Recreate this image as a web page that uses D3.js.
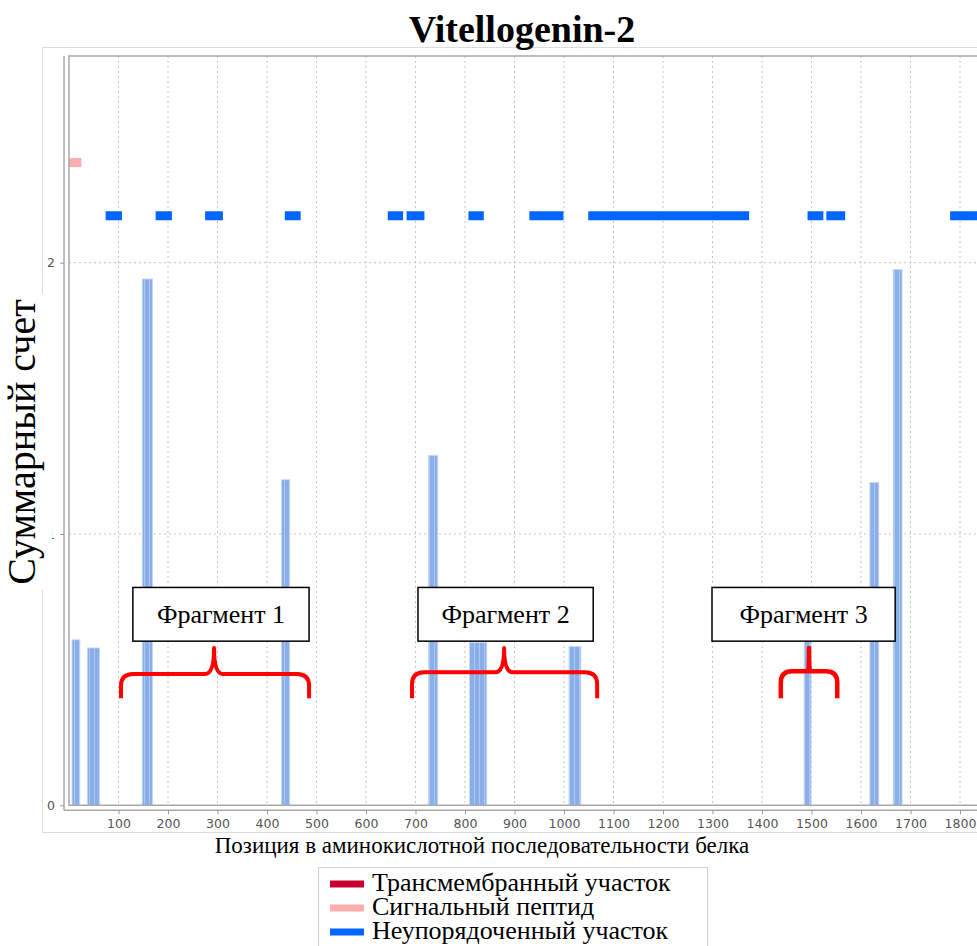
<!DOCTYPE html>
<meta charset="utf-8">
<title>Vitellogenin-2</title>
<style>
  body { margin: 0; background: #fff; }
  svg { display: block; }
</style>
<body>
<script src="https://cdn.jsdelivr.net/npm/d3@7"></script>
<script>
    // score bars: start / end residue and summary score
    var barStart = [6, 37, 148, 429, 726, 809, 1010, 1485, 1618, 1665];
    var barEnd   = [22, 62, 169, 446, 745, 844, 1034, 1499, 1636, 1683];
    var barValue = [0.61, 0.58, 1.94, 1.20, 1.29, 0.60, 0.585, 0.65, 1.19, 1.975];

    // disordered regions
    var disStart = [74, 175, 275, 436, 644, 682, 807, 930, 1049, 1492, 1530, 1780];
    var disEnd   = [107, 208, 311, 468, 675, 718, 838, 999, 1374, 1524, 1568, 1880];
    var disLevel = 2.173;

    // signal peptide
    var sigStart = [0], sigEnd = [25];
    var sigLevel = 2.369;

    var xTicks = [100, 200, 300, 400, 500, 600, 700, 800, 900, 1000, 1100, 1200,
                  1300, 1400, 1500, 1600, 1700, 1800];
    var yTicks = [0, 1, 2];

    // fragment annotations (residue ranges)
    var fragNames = ["Фрагмент 1", "Фрагмент 2", "Фрагмент 3"];
    var fragBoxFrom = [129, 705, 1299], fragBoxTo = [485, 1059, 1669];
    var braceFrom = [105, 693, 1438], braceTo = [485, 1067, 1552], braceMid = [293, 879, 1495];
    var braceBottom = 0.395, braceBar = [0.484, 0.49, 0.494], braceTip = 0.58;
    var boxTop = 0.803, boxBottom = 0.605;

    var legendNames  = ["Трансмембранный участок", "Сигнальный пептид", "Неупорядоченный участок"];
    var legendColors = ["#c8002e", "#ffadad", "#0066ff"];

    var width = 977, height = 946;

    var x = d3.scaleLinear().domain([0, 1880]).range([69, 69 + 1880 * 0.495]);
    var y = d3.scaleLinear().domain([0, 1]).range([805.3, 534]);
    var yTop = y.invert(56);

    var svg = d3.select("body").append("svg")
        .attr("width", width)
        .attr("height", height);

    var defs = svg.append("defs");
    var pat = defs.append("pattern")
        .attr("id", "stripes")
        .attr("patternUnits", "userSpaceOnUse")
        .attr("width", 5).attr("height", 10);
    pat.append("rect").attr("width", 5).attr("height", 10).attr("fill", "#8aaee9");
    pat.append("rect").attr("x", 4).attr("width", 1).attr("height", 10).attr("fill", "#aec7f1");

    // outer frame
    svg.append("rect")
        .attr("x", 42.5).attr("y", 47.5)
        .attr("width", 1000).attr("height", 785)
        .attr("fill", "none")
        .attr("stroke", "#dcdcdc");

    // grid
    svg.append("g").selectAll("line")
        .data(xTicks)
        .join("line")
        .attr("x1", d => x(d)).attr("x2", d => x(d))
        .attr("y1", y(yTop)).attr("y2", y(0))
        .attr("stroke", "#c4c4c4")
        .attr("stroke-dasharray", "2,3");
    svg.append("g").selectAll("line")
        .data(yTicks.filter(d => d > 0))
        .join("line")
        .attr("x1", x(0)).attr("x2", x(1880))
        .attr("y1", d => y(d)).attr("y2", d => y(d))
        .attr("stroke", "#c4c4c4")
        .attr("stroke-dasharray", "2,3");

    // score bars
    svg.append("g").selectAll("rect")
        .data(barValue)
        .join("rect")
        .attr("x", (d, i) => x(barStart[i]))
        .attr("width", (d, i) => x(barEnd[i]) - x(barStart[i]))
        .attr("y", d => y(d))
        .attr("height", d => y(0) - y(d))
        .attr("fill", "url(#stripes)")
        .attr("stroke", "#c9d9f6")
        .attr("stroke-width", 0.8);

    // disordered
    svg.append("g").selectAll("rect")
        .data(disStart)
        .join("rect")
        .attr("x", (d, i) => x(d))
        .attr("width", (d, i) => x(disEnd[i]) - x(d))
        .attr("y", y(disLevel) - 4.5)
        .attr("height", 9)
        .attr("fill", "#0066ff");

    // signal peptide
    svg.append("g").selectAll("rect")
        .data(sigStart)
        .join("rect")
        .attr("x", d => x(d))
        .attr("width", (d, i) => x(sigEnd[i]) - x(d))
        .attr("y", y(sigLevel) - 4.5)
        .attr("height", 9)
        .attr("fill", "#ffadad");

    // plot border and axis lines
    svg.append("path")
        .attr("d", `M${x(1880)},${y(yTop)}H${x(0)}V${y(0)}H${x(1880)}`)
        .attr("fill", "none")
        .attr("stroke", "#a8a8a8")
        .attr("stroke-width", 1.5);
    svg.append("line")
        .attr("x1", x(0) - 5).attr("x2", x(0) - 5)
        .attr("y1", y(yTop)).attr("y2", y(0) + 5)
        .attr("stroke", "#a8a8a8").attr("stroke-width", 1.5);
    svg.append("line")
        .attr("x1", x(0) - 5).attr("x2", x(1880))
        .attr("y1", y(0) + 5).attr("y2", y(0) + 5)
        .attr("stroke", "#a8a8a8").attr("stroke-width", 1.5);

    // x axis
    var xAxis = svg.append("g")
        .attr("transform", `translate(0,${y(0) + 5})`)
        .call(d3.axisBottom(x).tickValues(xTicks).tickSize(4).tickPadding(5).tickFormat(d3.format("d")));
    xAxis.select(".domain").remove();
    xAxis.selectAll("line").attr("stroke", "#999");
    xAxis.selectAll("text")
        .attr("fill", "#555")
        .style("font-family", "DejaVu Sans, sans-serif")
        .style("font-size", "12.5px");

    // y axis
    var yAxis = svg.append("g")
        .attr("transform", `translate(${x(0) - 5},0)`)
        .call(d3.axisLeft(y).tickValues(yTicks).tickSize(4).tickPadding(5).tickFormat(d3.format("d")));
    yAxis.select(".domain").remove();
    yAxis.selectAll("line").attr("stroke", "#999");
    yAxis.selectAll("text")
        .attr("fill", "#555")
        .style("font-family", "DejaVu Sans, sans-serif")
        .style("font-size", "12.5px");

    // title
    svg.append("text")
        .attr("x", 522).attr("y", 42)
        .attr("text-anchor", "middle")
        .style("font-family", "Liberation Serif, Times New Roman, serif")
        .style("font-weight", "bold")
        .style("font-size", "38px")
        .text("Vitellogenin-2");

    // y label (white background covers the frame)
    svg.append("rect")
        .attr("x", 4).attr("y", 294)
        .attr("width", 48).attr("height", 296)
        .attr("fill", "#fff");
    svg.append("text")
        .attr("transform", "translate(35,442) rotate(-90)")
        .attr("text-anchor", "middle")
        .style("font-family", "Liberation Serif, Times New Roman, serif")
        .style("font-size", "40px")
        .text("Суммарный счет");

    // x label
    svg.append("text")
        .attr("x", 482).attr("y", 853)
        .attr("text-anchor", "middle")
        .style("font-family", "Liberation Serif, Times New Roman, serif")
        .style("font-size", "23px")
        .text("Позиция в аминокислотной последовательности белка");

    // fragment boxes
    var frag = svg.append("g").selectAll("g")
        .data(fragNames)
        .join("g");
    frag.append("rect")
        .attr("x", (d, i) => x(fragBoxFrom[i]))
        .attr("y", y(boxTop))
        .attr("width", (d, i) => x(fragBoxTo[i]) - x(fragBoxFrom[i]))
        .attr("height", y(boxBottom) - y(boxTop))
        .attr("fill", "#fff")
        .attr("stroke", "#000")
        .attr("stroke-width", 1.5);
    frag.append("text")
        .attr("x", (d, i) => (x(fragBoxFrom[i]) + x(fragBoxTo[i])) / 2)
        .attr("y", y(boxBottom) - 18)
        .attr("text-anchor", "middle")
        .style("font-family", "Liberation Serif, Times New Roman, serif")
        .style("font-size", "26px")
        .text(d => d);

    // braces
    function bracePath(i) {
        var x0 = x(braceFrom[i]), x1 = x(braceTo[i]), xm = x(braceMid[i]);
        var yb = y(braceBottom), yh = y(braceBar[i]), yc = y(braceTip);
        var r = Math.min(12, (x1 - x0) / 5), rm = i === 2 ? 1 : 9;
        return `M${x0},${yb}L${x0},${yh + r}Q${x0},${yh} ${x0 + r},${yh}` +
               `L${xm - rm},${yh}Q${xm},${yh} ${xm},${yc}Q${xm},${yh} ${xm + rm},${yh}` +
               `L${x1 - r},${yh}Q${x1},${yh} ${x1},${yh + r}L${x1},${yb}`;
    }
    svg.append("g").selectAll("path")
        .data(fragNames)
        .join("path")
        .attr("d", (d, i) => bracePath(i))
        .attr("fill", "none")
        .attr("stroke", "#ff0000")
        .attr("stroke-width", (d, i) => i === 2 ? 4.5 : 4)
        .attr("stroke-linejoin", "round");

    // legend
    var leg = svg.append("g");
    leg.append("rect")
        .attr("x", 318.5).attr("y", 867.5)
        .attr("width", 389).attr("height", 100)
        .attr("fill", "#fff")
        .attr("stroke", "#d0d0d0");
    var item = leg.selectAll("g")
        .data(legendNames)
        .join("g")
        .attr("transform", (d, i) => `translate(330,${884 + i * 24})`);
    item.append("rect")
        .attr("x", 0).attr("y", -3.5)
        .attr("width", 34).attr("height", 7)
        .attr("fill", (d, i) => legendColors[i]);
    item.append("text")
        .attr("x", 42).attr("y", 7)
        .style("font-family", "Liberation Serif, Times New Roman, serif")
        .style("font-size", "26px")
        .text(d => d);
</script>
</body>
